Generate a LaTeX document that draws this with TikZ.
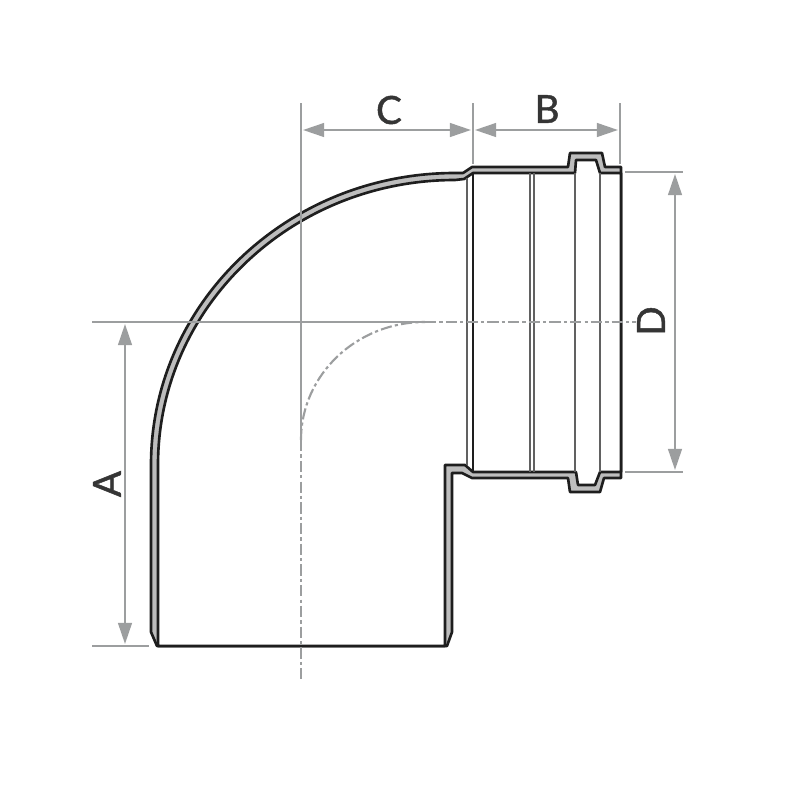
\documentclass[tikz,border=0pt]{standalone}
\usepackage{fontspec}
\newfontfamily\dimfont[FakeBold=1.2]{Lato}
\usetikzlibrary{arrows.meta}
\tikzset{>=stealth}
\definecolor{dimgray}{HTML}{9C9E9F}
\definecolor{wallgray}{HTML}{BDBDBD}
\definecolor{inkdark}{HTML}{1E1E1E}
\tikzset{
  wall/.style={draw=inkdark, line width=0.75pt, line join=round},
  bore/.style={draw=inkdark!70, line width=0.45pt},
  extline/.style={draw=dimgray, line width=0.6pt},
  axisline/.style={draw=dimgray, line width=0.6pt, dash pattern=on 3.2pt off 0.9pt on 0.9pt off 0.9pt},
  dimline/.style={draw=dimgray, line width=0.6pt, {Triangle[length=6pt,width=3.9pt]}-{Triangle[length=6pt,width=3.9pt]}},
  letter/.style={text=inkdark!90, font=\dimfont\fontsize{11}{11}\selectfont, inner sep=0pt}
}
\begin{document}
\begin{tikzpicture}[x=0.01cm, y=-0.01cm]

\path[use as bounding box, fill=white] (0,0) rectangle (800,800);

\path[wall, fill=wallgray] (157,646) -- (151,632) -- (151,465)
  arc[start angle=180, end angle=270, x radius=304, y radius=292]
  -- (463,173) -- (472,167) -- (568,167) -- (570,153) -- (602,153) -- (605,167) -- (621,167)
  -- (621,478) -- (604,478) -- (600,492) -- (570,492) -- (568,478) -- (472,478)
  -- (462,473) -- (452,473) -- (452,632) -- (447,646) -- cycle;
\path[wall, fill=white] (158,646) -- (158,465)
  arc[start angle=180, end angle=270, x radius=297, y radius=285]
  -- (464,179) -- (473,173) -- (575,173) -- (576,160) -- (596,160) -- (600,173) -- (621,173)
  -- (621,472) -- (600,472) -- (595,485) -- (578,485) -- (576,472) -- (473,472)
  -- (465,465) -- (445,465) -- (445,646) -- cycle;

\coordinate (s1t) at (467,178); \coordinate (s1b) at (467,465);
\coordinate (s2t) at (473,173); \coordinate (s2b) at (473,472);
\coordinate (s3t) at (530,173); \coordinate (s3b) at (530,472);
\coordinate (s4t) at (534,173); \coordinate (s4b) at (534,472);
\coordinate (s5t) at (575,173); \coordinate (s5b) at (575,472);
\coordinate (s6t) at (600,173); \coordinate (s6b) at (600,472);
\draw[bore] (s1t)--(s1b);
\draw[wall] (s2t)--(s2b);
\draw[bore] (s3t)--(s3b);
\draw[bore] (s4t)--(s4b);
\draw[bore] (s5t)--(s5b);
\draw[bore] (s6t)--(s6b);

\coordinate (axh0) at (92,322);
\coordinate (axh1) at (425,322);
\coordinate (axh2) at (636,322);
\coordinate (axv0) at (301,103);
\coordinate (axv1) at (301,440);
\coordinate (axv2) at (301,680);
\draw[extline] (axh0)--(axh1);
\draw[axisline] (axh1)--(axh2);
\draw[extline] (axv0)--(axv1);
\draw[axisline] (axv1)--(axv2);
\draw[axisline] (axv1) arc[start angle=180, end angle=270, x radius=124, y radius=118];

\coordinate (ec0) at (473,103); \coordinate (ec1) at (473,164);
\coordinate (eb0) at (620,103); \coordinate (eb1) at (620,164);
\coordinate (ed0) at (625,172); \coordinate (ed1) at (683,172);
\coordinate (ee0) at (625,472); \coordinate (ee1) at (683,472);
\coordinate (ea0) at (92,646); \coordinate (ea1) at (149,646);
\draw[extline] (ec0)--(ec1);
\draw[extline] (eb0)--(eb1);
\draw[extline] (ed0)--(ed1);
\draw[extline] (ee0)--(ee1);
\draw[extline] (ea0)--(ea1);

\coordinate (c0) at (303,130); \coordinate (c1) at (471,130);
\coordinate (b0) at (475,130); \coordinate (b1) at (618,130);
\coordinate (d0) at (675,174); \coordinate (d1) at (675,470);
\coordinate (a0) at (125,324); \coordinate (a1) at (125,644);
\draw[dimline] (c0)--(c1);
\draw[dimline] (b0)--(b1);
\draw[dimline] (d0)--(d1);
\draw[dimline] (a0)--(a1);

\node[letter] (labC) at (389,110) {C};
\node[letter] (labB) at (547,109) {B};
\node[letter, rotate=90] (labD) at (651,321) {D};
\node[letter, rotate=90] (labA) at (107,484) {A};

\end{tikzpicture}
\end{document}
